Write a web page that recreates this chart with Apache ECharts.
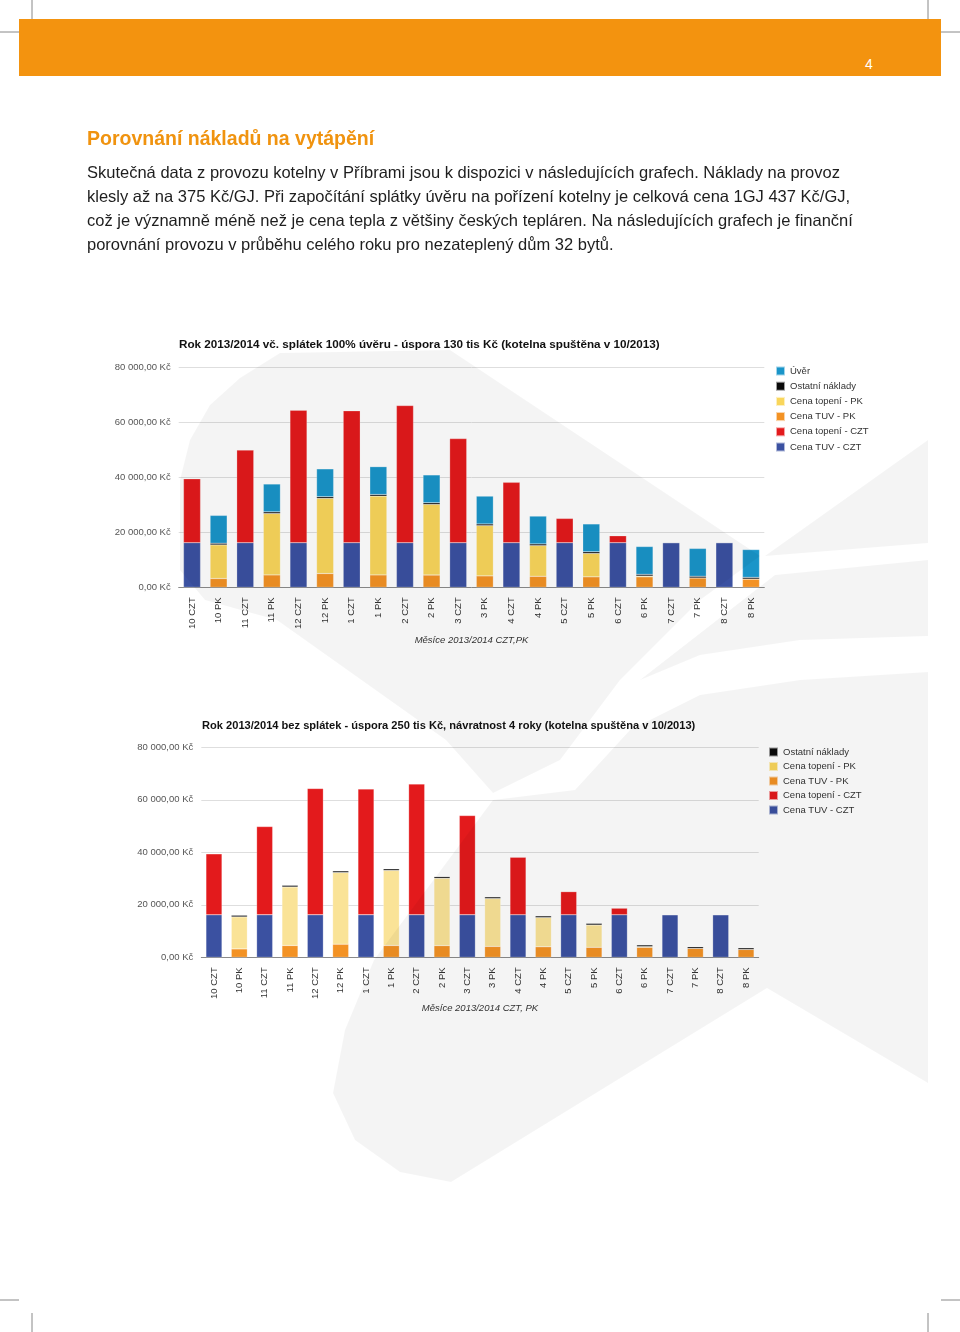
<!DOCTYPE html>
<html>
<head>
<meta charset="utf-8">
<script src="https://cdn.jsdelivr.net/npm/echarts@6/dist/echarts.min.js"></script>
<style>
  html,body{margin:0;padding:0;background:#fff;}
  #page{position:relative;width:960px;height:1332px;overflow:hidden;font-family:"Liberation Sans",Arial,sans-serif;}
  #chart{position:absolute;left:0;top:0;width:960px;height:1332px;}
  .band{position:absolute;left:19px;top:19px;width:922px;height:57px;background:#f3930f;}
  .pnum{position:absolute;left:865px;top:56px;color:#fff;font-size:14px;}
  .h1{position:absolute;left:87px;top:127px;color:#f0930f;font-size:19.5px;font-weight:bold;white-space:nowrap;}
  .p{position:absolute;left:87px;color:#1e1e1e;font-size:16.5px;white-space:nowrap;}
</style>
</head>
<body>
<div id="page">
  <div id="chart"></div>
  <div class="band"></div>
  <div class="pnum">4</div>
  <div class="h1">Porovnání nákladů na vytápění</div>
  <div class="p" style="top:163px">Skutečná data z provozu kotelny v Příbrami jsou k dispozici v následujících grafech. Náklady na provoz</div>
  <div class="p" style="top:187px">klesly až na 375 Kč/GJ. Při započítání splátky úvěru na pořízení kotelny je celková cena 1GJ 437 Kč/GJ,</div>
  <div class="p" style="top:211px">což je významně méně než je cena tepla z většiny českých tepláren. Na následujících grafech je finanční</div>
  <div class="p" style="top:235px">porovnání provozu v průběhu celého roku pro nezateplený dům 32 bytů.</div>
</div>
<script>
// ---- data ----
var months = ['10','11','12','1','2','3','4','5','6','7','8'];
var tuvCZT = [16200,16200,16200,16200,16200,16200,16200,16200,16200,16200,16200];
var topCZT = [23200,33600,48100,47900,49800,37800,21900,8800,2500,0,0];
var tuvPK  = [3200,4500,5000,4500,4450,4150,4000,3800,3800,3400,3000];
var topPK  = [12200,22300,27300,28600,25650,18250,11150,8500,300,0,0];
var ostatni = [600,600,600,600,600,600,600,600,600,600,600];
var uver   = [10100,10100,10100,10100,10100,10100,10100,10100,10100,10100,10100];
var yTicks = [0,20000,40000,60000,80000];

var title1 = 'Rok 2013/2014 vč. splátek 100% úvěru - úspora 130 tis Kč (kotelna spuštěna v 10/2013)';
var title2 = 'Rok 2013/2014 bez splátek - úspora 250 tis Kč, návratnost 4 roky (kotelna spuštěna v 10/2013)';
var xName1 = 'Měsíce 2013/2014 CZT,PK';
var xName2 = 'Měsíce 2013/2014 CZT, PK';

var N_UVER='Úvěr', N_OST='Ostatní náklady', N_TPK='Cena topení - PK', N_UPK='Cena TUV - PK', N_TCZT='Cena topení - CZT', N_UCZT='Cena TUV - CZT';

// categories interleaved CZT / PK
var cats = [];
months.forEach(function(m){ cats.push(m+' CZT'); cats.push(m+' PK'); });
function onCZT(arr){ var r=[]; arr.forEach(function(v){ r.push(v); r.push('-'); }); return r; }
function onPK(arr){ var r=[]; arr.forEach(function(v){ r.push('-'); r.push(v); }); return r; }

var colors = {};
colors[N_UVER]='#1a95c9'; colors[N_OST]='#0a0a0a'; colors[N_UPK]='#f39224';
colors[N_TCZT]='#e31a1c'; colors[N_UCZT]='#3b51a1';

function fmt(v){
  var s = String(Math.round(v));
  s = s.replace(/\B(?=(\d{3})+(?!\d))/g,' ');
  return s + ',00 Kč';
}

function makeSeries(idx, withUver, yellow, bw){
  var list = [
    [N_UCZT, onCZT(tuvCZT), colors[N_UCZT]],
    [N_TCZT, onCZT(topCZT), colors[N_TCZT]],
    [N_UPK, onPK(tuvPK), colors[N_UPK]],
    [N_TPK, onPK(topPK), yellow],
    [N_OST, onPK(ostatni), colors[N_OST]]
  ];
  if (withUver) list.push([N_UVER, onPK(uver), colors[N_UVER]]);
  return list.map(function(s){
    return {
      type:'bar', name:s[0], data:s[1], stack:'s'+idx, xAxisIndex:idx, yAxisIndex:idx,
      barWidth:bw, itemStyle:{color:s[2], borderColor:'rgba(255,255,255,0.6)', borderWidth:0.4},
      emphasis:{disabled:true}, z:2
    };
  });
}

var fontFam = '"Liberation Sans", Arial, sans-serif';
function xAxis(idx, name, nameY){
  return {
    type:'category', gridIndex:idx, data:cats,
    axisLine:{lineStyle:{color:'#8a8a8a', width:1}},
    axisTick:{show:false},
    axisLabel:{rotate:90, fontSize:9.5, color:'#333', margin:10, fontFamily:fontFam, interval:0},
    name:name, nameLocation:'middle', nameGap:nameY,
    nameTextStyle:{fontStyle:'italic', fontSize:9.5, color:'#333', fontFamily:fontFam}
  };
}
function yAxis(idx){
  return {
    type:'value', gridIndex:idx, min:yTicks[0], max:yTicks[yTicks.length-1], interval:20000,
    axisLine:{show:false}, axisTick:{show:false},
    splitLine:{lineStyle:{color:'#dedede', width:1}},
    axisLabel:{formatter:fmt, fontSize:9.5, color:'#555', margin:8, fontFamily:fontFam}
  };
}

var wm = 'rgba(0,0,0,0.045)';
var option = {
  animation:false,
  backgroundColor:'transparent',
  title:[
    {text:title1, left:179, top:339, padding:0, textStyle:{fontSize:11.7, fontWeight:'bold', color:'#111', fontFamily:fontFam}},
    {text:title2, left:202, top:720, padding:0, textStyle:{fontSize:11.1, fontWeight:'bold', color:'#111', fontFamily:fontFam}}
  ],
  legend:[
    {orient:'vertical', left:775, top:365.5, padding:0, itemWidth:9, itemHeight:9, itemGap:4.2, icon:'rect',
     textStyle:{fontSize:9.5, color:'#333', fontFamily:fontFam},
     data:[N_UVER,N_OST,N_TPK,N_UPK,N_TCZT,N_UCZT], selectedMode:false},
    {orient:'vertical', left:768, top:746.5, padding:0, itemWidth:9, itemHeight:9, itemGap:3.5, icon:'rect',
     textStyle:{fontSize:9.5, color:'#333', fontFamily:fontFam},
     data:[N_OST,N_TPK,N_UPK,N_TCZT,N_UCZT], selectedMode:false}
  ],
  grid:[
    {left:178.7, top:367, width:585.6, height:220.3},
    {left:201.3, top:747.3, width:557.4, height:210}
  ],
  xAxis:[xAxis(0, xName1, 48), xAxis(1, xName2, 46)],
  yAxis:[yAxis(0), yAxis(1)],
  series:[].concat(makeSeries(0, true, '#f9d65b', 17), makeSeries(1, false, '#fae397', 16)),
  graphic:[
    // crop marks
    {type:'line', shape:{x1:32,y1:0,x2:32,y2:19}, style:{stroke:'#888',lineWidth:1}},
    {type:'line', shape:{x1:0,y1:32,x2:19,y2:32}, style:{stroke:'#888',lineWidth:1}},
    {type:'line', shape:{x1:928,y1:0,x2:928,y2:19}, style:{stroke:'#888',lineWidth:1}},
    {type:'line', shape:{x1:941,y1:32,x2:960,y2:32}, style:{stroke:'#888',lineWidth:1}},
    {type:'line', shape:{x1:32,y1:1313,x2:32,y2:1332}, style:{stroke:'#888',lineWidth:1}},
    {type:'line', shape:{x1:0,y1:1300,x2:19,y2:1300}, style:{stroke:'#888',lineWidth:1}},
    {type:'line', shape:{x1:928,y1:1313,x2:928,y2:1332}, style:{stroke:'#888',lineWidth:1}},
    {type:'line', shape:{x1:941,y1:1300,x2:960,y2:1300}, style:{stroke:'#888',lineWidth:1}},
    // faint watermark logo (approximation)
    {type:'polygon', z:10, silent:true, shape:{smooth:0, points:[[180,480],[190,440],[210,405],[240,378],[280,353],[450,350],[760,556],[700,600],[620,680],[560,760],[493,793],[446,740],[277,620],[205,600],[180,570]]},
     style:{fill:wm}},
    {type:'polygon', z:10, silent:true, shape:{points:[[928,440],[765,556],[928,543]]}, style:{fill:wm}},
    {type:'polygon', z:10, silent:true, shape:{points:[[775,575],[928,560],[928,636],[800,640],[700,655],[640,680]]}, style:{fill:wm}},
    {type:'polygon', z:10, silent:true, shape:{points:[[493,800],[575,790],[630,730],[700,695],[800,680],[928,672],[928,1083],[767,988],[451,1182],[400,1172],[355,1140],[333,1093],[345,1030],[374,960]]},
     style:{fill:wm}}
  ]
};
var chart = echarts.init(document.getElementById('chart'), null, {renderer:'canvas'});
chart.setOption(option);
</script>
</body>
</html>
